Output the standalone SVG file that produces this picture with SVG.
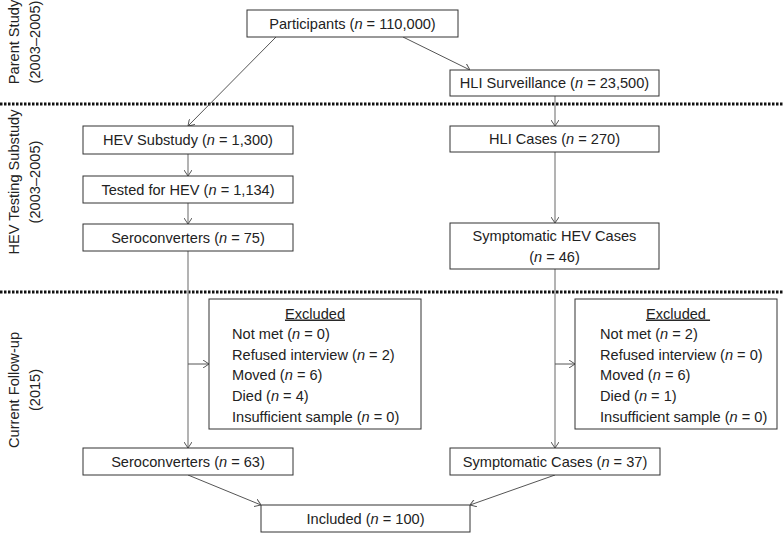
<svg xmlns="http://www.w3.org/2000/svg" width="783" height="533" viewBox="0 0 783 533">
<style>
text{font-family:"Liberation Sans",Arial,sans-serif;font-size:14.6px;fill:#222}
.c{text-anchor:middle}
.i{font-style:italic}
.box{fill:#fff;stroke:#333;stroke-width:1}
.v{stroke:#9a9a9a;stroke-width:1.5;fill:none}
.d{stroke:#555;stroke-width:1;fill:none}
.sep{stroke:#111;stroke-width:3;stroke-dasharray:2.5 1.5}
</style>
<defs>
<marker id="ah" viewBox="0 0 6 8" markerWidth="6" markerHeight="8" refX="6" refY="4" orient="auto" markerUnits="userSpaceOnUse">
<path d="M0,0 L6,4 L0,8" fill="none" stroke="#555" stroke-width="1"/>
</marker>
</defs>
<rect width="783" height="533" fill="#fff"/>
<g id="separators">
<line class="sep" x1="0" y1="104" x2="783" y2="104"/>
<line class="sep" x1="0" y1="292" x2="783" y2="292"/>
</g>
<g id="phase-labels">
<text class="c" transform="translate(19,42) rotate(-90)">Parent Study</text>
<text class="c" transform="translate(40,42) rotate(-90)">(2003–2005)</text>
<text class="c" transform="translate(19,182) rotate(-90)">HEV Testing Substudy</text>
<text class="c" transform="translate(40,182) rotate(-90)">(2003–2005)</text>
<text class="c" transform="translate(19,390) rotate(-90)">Current Follow-up</text>
<text class="c" transform="translate(40,390) rotate(-90)">(2015)</text>
</g>
<g id="connectors">
<line class="d" x1="276" y1="37" x2="188" y2="126" marker-end="url(#ah)"/>
<line class="d" x1="403" y1="37" x2="470" y2="70" marker-end="url(#ah)"/>
<line class="v" x1="555" y1="96" x2="555" y2="126" marker-end="url(#ah)"/>
<line class="v" x1="188" y1="154" x2="188" y2="176" marker-end="url(#ah)"/>
<line class="v" x1="188" y1="203" x2="188" y2="224" marker-end="url(#ah)"/>
<line class="v" x1="555" y1="152" x2="555" y2="223" marker-end="url(#ah)"/>
<line class="v" x1="188" y1="251" x2="188" y2="448" marker-end="url(#ah)"/>
<line class="v" x1="555" y1="269" x2="555" y2="448" marker-end="url(#ah)"/>
<line class="d" x1="188" y1="364" x2="209" y2="364" marker-end="url(#ah)"/>
<line class="d" x1="555" y1="364" x2="575" y2="364" marker-end="url(#ah)"/>
<line class="d" x1="188" y1="475" x2="261" y2="505" marker-end="url(#ah)"/>
<line class="d" x1="555" y1="475" x2="470" y2="505" marker-end="url(#ah)"/>
</g>
<g id="participants">
<rect class="box" x="247" y="10" width="211" height="27"/>
<text class="c" x="352.5" y="29">Participants (<tspan class="i">n</tspan> = 110,000)</text>
</g>
<g id="hli-surveillance">
<rect class="box" x="450" y="70" width="209" height="26"/>
<text class="c" x="554.5" y="88">HLI Surveillance (<tspan class="i">n</tspan> = 23,500)</text>
</g>
<g id="hev-substudy">
<rect class="box" x="83" y="126" width="210" height="28"/>
<text class="c" x="188" y="145">HEV Substudy (<tspan class="i">n</tspan> = 1,300)</text>
</g>
<g id="tested-hev">
<rect class="box" x="83" y="176" width="210" height="27"/>
<text class="c" x="188" y="194.5">Tested for HEV (<tspan class="i">n</tspan> = 1,134)</text>
</g>
<g id="seroconverters-75">
<rect class="box" x="83" y="224" width="210" height="27"/>
<text class="c" x="188" y="242.5">Seroconverters (<tspan class="i">n</tspan> = 75)</text>
</g>
<g id="hli-cases">
<rect class="box" x="450" y="126" width="209" height="26"/>
<text class="c" x="554.5" y="144">HLI Cases (<tspan class="i">n</tspan> = 270)</text>
</g>
<g id="symptomatic-hev">
<rect class="box" x="450" y="223" width="209" height="46"/>
<text class="c" x="554.5" y="241">Symptomatic HEV Cases</text>
<text class="c" x="554.5" y="261.5">(<tspan class="i">n</tspan> = 46)</text>
</g>
<g id="excluded-left">
<rect class="box" x="209" y="299" width="212" height="130"/>
<text class="c" x="315" y="318.5" text-decoration="underline">Excluded</text>
<text x="232" y="339">Not met (<tspan class="i">n</tspan> = 0)</text>
<text x="232" y="359.7">Refused interview (<tspan class="i">n</tspan> = 2)</text>
<text x="232" y="380.4">Moved (<tspan class="i">n</tspan> = 6)</text>
<text x="232" y="401">Died (<tspan class="i">n</tspan> = 4)</text>
<text x="232" y="421.7">Insufficient sample (<tspan class="i">n</tspan> = 0)</text>
</g>
<g id="excluded-right">
<rect class="box" x="575" y="299" width="202" height="130"/>
<text class="c" x="678" y="318.5" text-decoration="underline" xml:space="preserve">Excluded </text>
<text x="600" y="339">Not met (<tspan class="i">n</tspan> = 2)</text>
<text x="600" y="359.7">Refused interview (<tspan class="i">n</tspan> = 0)</text>
<text x="600" y="380.4">Moved (<tspan class="i">n</tspan> = 6)</text>
<text x="600" y="401">Died (<tspan class="i">n</tspan> = 1)</text>
<text x="600" y="421.7">Insufficient sample (<tspan class="i">n</tspan> = 0)</text>
</g>
<g id="seroconverters-63">
<rect class="box" x="83" y="448" width="210" height="27"/>
<text class="c" x="188" y="466.5">Seroconverters (<tspan class="i">n</tspan> = 63)</text>
</g>
<g id="symptomatic-cases">
<rect class="box" x="450" y="448" width="210" height="27"/>
<text class="c" x="555" y="466.5">Symptomatic Cases (<tspan class="i">n</tspan> = 37)</text>
</g>
<g id="included">
<rect class="box" x="261" y="505" width="209" height="27"/>
<text class="c" x="365.5" y="523.5">Included (<tspan class="i">n</tspan> = 100)</text>
</g>
</svg>
